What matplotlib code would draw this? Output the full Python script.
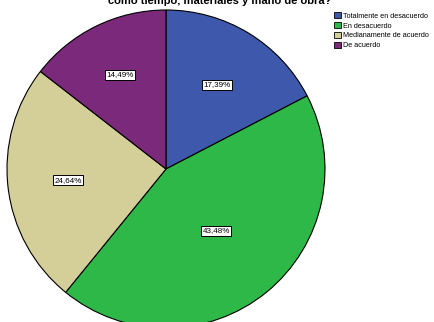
import matplotlib.pyplot as plt
import numpy as np

plt.rcParams['font.family'] = ['Liberation Sans', 'DejaVu Sans']

# data
categorias = ['Totalmente en desacuerdo', 'En desacuerdo',
              'Medianamente de acuerdo', 'De acuerdo']
porcentajes = [17.39, 43.48, 24.64, 14.49]
colores = ['#3E58AC', '#2EB848', '#D4CE99', '#7B2A7B']
titulo = 'como tiempo, materiales y mano de obra?'

W, H = 434, 322
fig = plt.figure(figsize=(W / 100, H / 100), dpi=100)

# pie centre (166, 169) px, radius 159 px
cx, cy, r = 166, 169, 159
ax = fig.add_axes([(cx - r) / W, (H - cy - r) / H, 2 * r / W, 2 * r / H])

wedges, _ = ax.pie(porcentajes, colors=colores, startangle=90, counterclock=False,
                   radius=1, wedgeprops=dict(edgecolor='black', linewidth=0.8))
ax.set_xlim(-1, 1)
ax.set_ylim(-1, 1)
ax.set_axis_off()

# label distance from centre for each slice
dist = [0.62, 0.5, 0.62, 0.66]
for w, v, d in zip(wedges, porcentajes, dist):
    ang = np.deg2rad((w.theta1 + w.theta2) / 2)
    txt = ('%.2f' % v).replace('.', ',') + '%'
    ax.text(d * np.cos(ang), d * np.sin(ang), txt, ha='center', va='center',
            fontsize=5.8, color='black',
            bbox=dict(boxstyle='square,pad=0.2', fc='white', ec='black', lw=0.7))

fig.text(220 / W, 1 - 1 / H, titulo, ha='center', va='center',
         fontsize=8, fontweight='bold')

leg = fig.legend(wedges, categorias, loc='upper left',
                 bbox_to_anchor=(334 / W, 1 - 12 / H), frameon=False,
                 fontsize=5.2, handlelength=1.0, handleheight=1.0,
                 handletextpad=0.25, labelspacing=0.3, borderaxespad=0,
                 borderpad=0)
for h in leg.legend_handles:
    h.set_edgecolor('black')
    h.set_linewidth(0.6)

fig.savefig('out.png', dpi=100)
